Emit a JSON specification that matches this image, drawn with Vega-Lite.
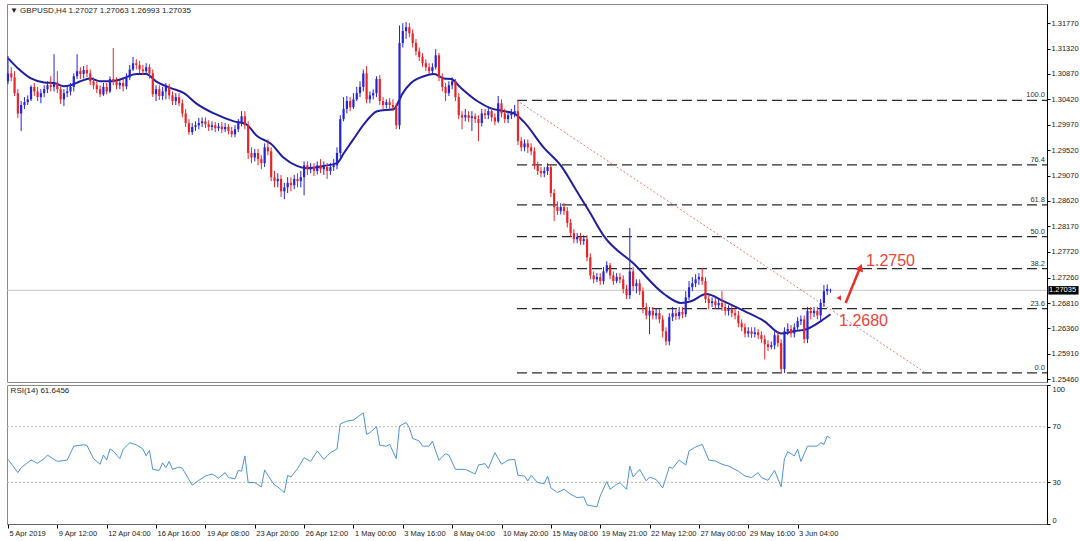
{
"$schema":"https://vega.github.io/schema/vega-lite/v6.json",
"background":"#ffffff",
"padding":{"left":3,"top":3,"right":0,"bottom":0},
"config":{"view":{"stroke":"#8a8a8a","strokeWidth":1},"axis":{"labelFont":"Liberation Sans","labelFontSize":7.5,"labelColor":"#222222","domainColor":"#000000","tickColor":"#000000","tickSize":3,"grid":false,"labelPadding":1,"title":null},"concat":{"spacing":0},"text":{"font":"Liberation Sans"}},
"datasets":{
"candles":[
{"i":0,"o":1.3074,"h":1.3119,"l":1.3069,"c":1.3088},
{"i":1,"o":1.3088,"h":1.3099,"l":1.3074,"c":1.3081},
{"i":2,"o":1.3081,"h":1.3092,"l":1.3048,"c":1.3053},
{"i":3,"o":1.3053,"h":1.3060,"l":1.3009,"c":1.3017},
{"i":4,"o":1.3017,"h":1.3039,"l":1.2986,"c":1.3032},
{"i":5,"o":1.3032,"h":1.3046,"l":1.3025,"c":1.3037},
{"i":6,"o":1.3037,"h":1.3049,"l":1.3032,"c":1.3042},
{"i":7,"o":1.3042,"h":1.3067,"l":1.3039,"c":1.3064},
{"i":8,"o":1.3064,"h":1.3071,"l":1.3048,"c":1.3056},
{"i":9,"o":1.3056,"h":1.3064,"l":1.3039,"c":1.3046},
{"i":10,"o":1.3046,"h":1.3060,"l":1.3035,"c":1.3053},
{"i":11,"o":1.3053,"h":1.3067,"l":1.3046,"c":1.3060},
{"i":12,"o":1.3060,"h":1.3074,"l":1.3053,"c":1.3067},
{"i":13,"o":1.3067,"h":1.3083,"l":1.3056,"c":1.3064},
{"i":14,"o":1.3064,"h":1.3122,"l":1.3056,"c":1.3071},
{"i":15,"o":1.3071,"h":1.3092,"l":1.3053,"c":1.3060},
{"i":16,"o":1.3060,"h":1.3065,"l":1.3034,"c":1.3042},
{"i":17,"o":1.3042,"h":1.3060,"l":1.3030,"c":1.3053},
{"i":18,"o":1.3053,"h":1.3064,"l":1.3046,"c":1.3056},
{"i":19,"o":1.3056,"h":1.3071,"l":1.3049,"c":1.3064},
{"i":20,"o":1.3064,"h":1.3088,"l":1.3056,"c":1.3083},
{"i":21,"o":1.3083,"h":1.3122,"l":1.3078,"c":1.3092},
{"i":22,"o":1.3092,"h":1.3099,"l":1.3078,"c":1.3087},
{"i":23,"o":1.3087,"h":1.3101,"l":1.3079,"c":1.3094},
{"i":24,"o":1.3094,"h":1.3103,"l":1.3081,"c":1.3088},
{"i":25,"o":1.3088,"h":1.3095,"l":1.3067,"c":1.3074},
{"i":26,"o":1.3074,"h":1.3081,"l":1.3060,"c":1.3067},
{"i":27,"o":1.3067,"h":1.3074,"l":1.3053,"c":1.3060},
{"i":28,"o":1.3060,"h":1.3067,"l":1.3046,"c":1.3051},
{"i":29,"o":1.3051,"h":1.3071,"l":1.3048,"c":1.3064},
{"i":30,"o":1.3064,"h":1.3071,"l":1.3051,"c":1.3056},
{"i":31,"o":1.3056,"h":1.3083,"l":1.3053,"c":1.3078},
{"i":32,"o":1.3078,"h":1.3133,"l":1.3067,"c":1.3074},
{"i":33,"o":1.3074,"h":1.3081,"l":1.3060,"c":1.3067},
{"i":34,"o":1.3067,"h":1.3078,"l":1.3060,"c":1.3071},
{"i":35,"o":1.3071,"h":1.3078,"l":1.3056,"c":1.3065},
{"i":36,"o":1.3065,"h":1.3088,"l":1.3060,"c":1.3081},
{"i":37,"o":1.3081,"h":1.3103,"l":1.3076,"c":1.3095},
{"i":38,"o":1.3095,"h":1.3117,"l":1.3092,"c":1.3106},
{"i":39,"o":1.3106,"h":1.3113,"l":1.3095,"c":1.3103},
{"i":40,"o":1.3103,"h":1.3110,"l":1.3088,"c":1.3095},
{"i":41,"o":1.3095,"h":1.3103,"l":1.3085,"c":1.3092},
{"i":42,"o":1.3092,"h":1.3106,"l":1.3085,"c":1.3099},
{"i":43,"o":1.3099,"h":1.3104,"l":1.3079,"c":1.3088},
{"i":44,"o":1.3088,"h":1.3095,"l":1.3046,"c":1.3051},
{"i":45,"o":1.3051,"h":1.3067,"l":1.3039,"c":1.3060},
{"i":46,"o":1.3060,"h":1.3067,"l":1.3041,"c":1.3048},
{"i":47,"o":1.3048,"h":1.3064,"l":1.3041,"c":1.3056},
{"i":48,"o":1.3056,"h":1.3071,"l":1.3042,"c":1.3064},
{"i":49,"o":1.3064,"h":1.3069,"l":1.3042,"c":1.3049},
{"i":50,"o":1.3049,"h":1.3056,"l":1.3032,"c":1.3039},
{"i":51,"o":1.3039,"h":1.3053,"l":1.3032,"c":1.3046},
{"i":52,"o":1.3046,"h":1.3053,"l":1.3030,"c":1.3035},
{"i":53,"o":1.3035,"h":1.3042,"l":1.3010,"c":1.3017},
{"i":54,"o":1.3017,"h":1.3025,"l":1.2993,"c":1.3000},
{"i":55,"o":1.3000,"h":1.3007,"l":1.2979,"c":1.2984},
{"i":56,"o":1.2984,"h":1.3000,"l":1.2979,"c":1.2993},
{"i":57,"o":1.2993,"h":1.3003,"l":1.2986,"c":1.2996},
{"i":58,"o":1.2996,"h":1.3009,"l":1.2989,"c":1.3000},
{"i":59,"o":1.3000,"h":1.3010,"l":1.2993,"c":1.3003},
{"i":60,"o":1.3003,"h":1.3010,"l":1.2991,"c":1.2998},
{"i":61,"o":1.2998,"h":1.3005,"l":1.2986,"c":1.2993},
{"i":62,"o":1.2993,"h":1.3003,"l":1.2987,"c":1.2996},
{"i":63,"o":1.2996,"h":1.3002,"l":1.2984,"c":1.2991},
{"i":64,"o":1.2991,"h":1.3000,"l":1.2986,"c":1.2994},
{"i":65,"o":1.2994,"h":1.3002,"l":1.2982,"c":1.2989},
{"i":66,"o":1.2989,"h":1.3000,"l":1.2984,"c":1.2993},
{"i":67,"o":1.2993,"h":1.2998,"l":1.2980,"c":1.2986},
{"i":68,"o":1.2986,"h":1.2993,"l":1.2975,"c":1.2980},
{"i":69,"o":1.2980,"h":1.2996,"l":1.2975,"c":1.2989},
{"i":70,"o":1.2989,"h":1.3007,"l":1.2984,"c":1.3000},
{"i":71,"o":1.3000,"h":1.3021,"l":1.2994,"c":1.3012},
{"i":72,"o":1.3012,"h":1.3021,"l":1.2989,"c":1.2996},
{"i":73,"o":1.2996,"h":1.3003,"l":1.2936,"c":1.2947},
{"i":74,"o":1.2947,"h":1.2957,"l":1.2929,"c":1.2939},
{"i":75,"o":1.2939,"h":1.2954,"l":1.2932,"c":1.2947},
{"i":76,"o":1.2947,"h":1.2954,"l":1.2925,"c":1.2936},
{"i":77,"o":1.2936,"h":1.2943,"l":1.2918,"c":1.2929},
{"i":78,"o":1.2929,"h":1.2964,"l":1.2922,"c":1.2957},
{"i":79,"o":1.2957,"h":1.2971,"l":1.2943,"c":1.2950},
{"i":80,"o":1.2950,"h":1.2957,"l":1.2897,"c":1.2904},
{"i":81,"o":1.2904,"h":1.2915,"l":1.2886,"c":1.2897},
{"i":82,"o":1.2897,"h":1.2911,"l":1.2886,"c":1.2901},
{"i":83,"o":1.2901,"h":1.2908,"l":1.2869,"c":1.2879},
{"i":84,"o":1.2879,"h":1.2894,"l":1.2865,"c":1.2886},
{"i":85,"o":1.2886,"h":1.2904,"l":1.2876,"c":1.2894},
{"i":86,"o":1.2894,"h":1.2904,"l":1.2879,"c":1.2890},
{"i":87,"o":1.2890,"h":1.2908,"l":1.2883,"c":1.2901},
{"i":88,"o":1.2901,"h":1.2911,"l":1.2886,"c":1.2897},
{"i":89,"o":1.2897,"h":1.2915,"l":1.2886,"c":1.2904},
{"i":90,"o":1.2904,"h":1.2932,"l":1.2872,"c":1.2925},
{"i":91,"o":1.2925,"h":1.2932,"l":1.2908,"c":1.2918},
{"i":92,"o":1.2918,"h":1.2929,"l":1.2911,"c":1.2922},
{"i":93,"o":1.2922,"h":1.2929,"l":1.2906,"c":1.2915},
{"i":94,"o":1.2915,"h":1.2932,"l":1.2909,"c":1.2925},
{"i":95,"o":1.2925,"h":1.2936,"l":1.2911,"c":1.2918},
{"i":96,"o":1.2918,"h":1.2932,"l":1.2908,"c":1.2922},
{"i":97,"o":1.2922,"h":1.2929,"l":1.2901,"c":1.2915},
{"i":98,"o":1.2915,"h":1.2929,"l":1.2908,"c":1.2922},
{"i":99,"o":1.2922,"h":1.2936,"l":1.2915,"c":1.2925},
{"i":100,"o":1.2925,"h":1.2957,"l":1.2918,"c":1.2947},
{"i":101,"o":1.2947,"h":1.3014,"l":1.2939,"c":1.3007},
{"i":102,"o":1.3007,"h":1.3046,"l":1.3003,"c":1.3025},
{"i":103,"o":1.3025,"h":1.3048,"l":1.3017,"c":1.3039},
{"i":104,"o":1.3039,"h":1.3046,"l":1.3021,"c":1.3028},
{"i":105,"o":1.3028,"h":1.3053,"l":1.3025,"c":1.3042},
{"i":106,"o":1.3042,"h":1.3064,"l":1.3039,"c":1.3053},
{"i":107,"o":1.3053,"h":1.3074,"l":1.3046,"c":1.3064},
{"i":108,"o":1.3064,"h":1.3095,"l":1.3056,"c":1.3088},
{"i":109,"o":1.3088,"h":1.3101,"l":1.3035,"c":1.3042},
{"i":110,"o":1.3042,"h":1.3056,"l":1.3035,"c":1.3049},
{"i":111,"o":1.3049,"h":1.3060,"l":1.3042,"c":1.3053},
{"i":112,"o":1.3053,"h":1.3083,"l":1.3046,"c":1.3078},
{"i":113,"o":1.3078,"h":1.3085,"l":1.3032,"c":1.3039},
{"i":114,"o":1.3039,"h":1.3046,"l":1.3025,"c":1.3032},
{"i":115,"o":1.3032,"h":1.3042,"l":1.3026,"c":1.3037},
{"i":116,"o":1.3037,"h":1.3044,"l":1.3025,"c":1.3032},
{"i":117,"o":1.3032,"h":1.3042,"l":1.3021,"c":1.3028},
{"i":118,"o":1.3028,"h":1.3035,"l":1.2989,"c":1.2996},
{"i":119,"o":1.2996,"h":1.3173,"l":1.2989,"c":1.3142},
{"i":120,"o":1.3142,"h":1.3177,"l":1.3134,"c":1.3163},
{"i":121,"o":1.3163,"h":1.3179,"l":1.3149,"c":1.3170},
{"i":122,"o":1.3170,"h":1.3177,"l":1.3152,"c":1.3159},
{"i":123,"o":1.3159,"h":1.3166,"l":1.3134,"c":1.3142},
{"i":124,"o":1.3142,"h":1.3149,"l":1.3120,"c":1.3127},
{"i":125,"o":1.3127,"h":1.3134,"l":1.3110,"c":1.3117},
{"i":126,"o":1.3117,"h":1.3124,"l":1.3099,"c":1.3106},
{"i":127,"o":1.3106,"h":1.3113,"l":1.3092,"c":1.3099},
{"i":128,"o":1.3099,"h":1.3106,"l":1.3087,"c":1.3092},
{"i":129,"o":1.3092,"h":1.3106,"l":1.3087,"c":1.3099},
{"i":130,"o":1.3099,"h":1.3131,"l":1.3095,"c":1.3120},
{"i":131,"o":1.3120,"h":1.3124,"l":1.3074,"c":1.3081},
{"i":132,"o":1.3081,"h":1.3088,"l":1.3056,"c":1.3064},
{"i":133,"o":1.3064,"h":1.3071,"l":1.3039,"c":1.3053},
{"i":134,"o":1.3053,"h":1.3074,"l":1.3048,"c":1.3067},
{"i":135,"o":1.3067,"h":1.3081,"l":1.3060,"c":1.3074},
{"i":136,"o":1.3074,"h":1.3078,"l":1.3039,"c":1.3046},
{"i":137,"o":1.3046,"h":1.3053,"l":1.3007,"c":1.3014},
{"i":138,"o":1.3014,"h":1.3021,"l":1.2989,"c":1.3010},
{"i":139,"o":1.3010,"h":1.3025,"l":1.3003,"c":1.3014},
{"i":140,"o":1.3014,"h":1.3021,"l":1.3002,"c":1.3009},
{"i":141,"o":1.3009,"h":1.3021,"l":1.2986,"c":1.3012},
{"i":142,"o":1.3012,"h":1.3017,"l":1.3000,"c":1.3007},
{"i":143,"o":1.3007,"h":1.3014,"l":1.2968,"c":1.3000},
{"i":144,"o":1.3000,"h":1.3025,"l":1.2994,"c":1.3017},
{"i":145,"o":1.3017,"h":1.3025,"l":1.3007,"c":1.3014},
{"i":146,"o":1.3014,"h":1.3028,"l":1.3007,"c":1.3021},
{"i":147,"o":1.3021,"h":1.3028,"l":1.3003,"c":1.3010},
{"i":148,"o":1.3010,"h":1.3017,"l":1.2996,"c":1.3003},
{"i":149,"o":1.3003,"h":1.3048,"l":1.3000,"c":1.3035},
{"i":150,"o":1.3035,"h":1.3042,"l":1.3010,"c":1.3017},
{"i":151,"o":1.3017,"h":1.3025,"l":1.3000,"c":1.3007},
{"i":152,"o":1.3007,"h":1.3021,"l":1.3000,"c":1.3014},
{"i":153,"o":1.3014,"h":1.3025,"l":1.3007,"c":1.3017},
{"i":154,"o":1.3017,"h":1.3032,"l":1.3010,"c":1.3021},
{"i":155,"o":1.3021,"h":1.3040,"l":1.2961,"c":1.2968},
{"i":156,"o":1.2968,"h":1.2975,"l":1.2950,"c":1.2957},
{"i":157,"o":1.2957,"h":1.2971,"l":1.2950,"c":1.2964},
{"i":158,"o":1.2964,"h":1.2971,"l":1.2947,"c":1.2957},
{"i":159,"o":1.2957,"h":1.2964,"l":1.2943,"c":1.2950},
{"i":160,"o":1.2950,"h":1.2957,"l":1.2918,"c":1.2925},
{"i":161,"o":1.2925,"h":1.2932,"l":1.2908,"c":1.2915},
{"i":162,"o":1.2915,"h":1.2922,"l":1.2904,"c":1.2911},
{"i":163,"o":1.2911,"h":1.2922,"l":1.2904,"c":1.2915},
{"i":164,"o":1.2915,"h":1.2929,"l":1.2908,"c":1.2922},
{"i":165,"o":1.2922,"h":1.2925,"l":1.2869,"c":1.2876},
{"i":166,"o":1.2876,"h":1.2883,"l":1.2826,"c":1.2851},
{"i":167,"o":1.2851,"h":1.2861,"l":1.2837,"c":1.2844},
{"i":168,"o":1.2844,"h":1.2858,"l":1.2838,"c":1.2851},
{"i":169,"o":1.2851,"h":1.2858,"l":1.2837,"c":1.2844},
{"i":170,"o":1.2844,"h":1.2851,"l":1.2815,"c":1.2823},
{"i":171,"o":1.2823,"h":1.2830,"l":1.2798,"c":1.2805},
{"i":172,"o":1.2805,"h":1.2812,"l":1.2787,"c":1.2794},
{"i":173,"o":1.2794,"h":1.2805,"l":1.2787,"c":1.2798},
{"i":174,"o":1.2798,"h":1.2805,"l":1.2784,"c":1.2791},
{"i":175,"o":1.2791,"h":1.2801,"l":1.2784,"c":1.2794},
{"i":176,"o":1.2794,"h":1.2801,"l":1.2755,"c":1.2762},
{"i":177,"o":1.2762,"h":1.2769,"l":1.2723,"c":1.2730},
{"i":178,"o":1.2730,"h":1.2737,"l":1.2716,"c":1.2723},
{"i":179,"o":1.2723,"h":1.2734,"l":1.2718,"c":1.2727},
{"i":180,"o":1.2727,"h":1.2734,"l":1.2713,"c":1.2720},
{"i":181,"o":1.2720,"h":1.2745,"l":1.2714,"c":1.2737},
{"i":182,"o":1.2737,"h":1.2755,"l":1.2734,"c":1.2748},
{"i":183,"o":1.2748,"h":1.2752,"l":1.2723,"c":1.2730},
{"i":184,"o":1.2730,"h":1.2737,"l":1.2713,"c":1.2720},
{"i":185,"o":1.2720,"h":1.2734,"l":1.2716,"c":1.2727},
{"i":186,"o":1.2727,"h":1.2734,"l":1.2716,"c":1.2723},
{"i":187,"o":1.2723,"h":1.2730,"l":1.2698,"c":1.2706},
{"i":188,"o":1.2706,"h":1.2713,"l":1.2688,"c":1.2695},
{"i":189,"o":1.2695,"h":1.2814,"l":1.2688,"c":1.2737},
{"i":190,"o":1.2737,"h":1.2745,"l":1.2702,"c":1.2711},
{"i":191,"o":1.2711,"h":1.2723,"l":1.2698,"c":1.2716},
{"i":192,"o":1.2716,"h":1.2723,"l":1.2695,"c":1.2702},
{"i":193,"o":1.2702,"h":1.2709,"l":1.2663,"c":1.2674},
{"i":194,"o":1.2674,"h":1.2681,"l":1.2652,"c":1.2659},
{"i":195,"o":1.2659,"h":1.2674,"l":1.2626,"c":1.2667},
{"i":196,"o":1.2667,"h":1.2674,"l":1.2652,"c":1.2659},
{"i":197,"o":1.2659,"h":1.2672,"l":1.2652,"c":1.2663},
{"i":198,"o":1.2663,"h":1.2670,"l":1.2645,"c":1.2652},
{"i":199,"o":1.2652,"h":1.2659,"l":1.2620,"c":1.2631},
{"i":200,"o":1.2631,"h":1.2638,"l":1.2606,"c":1.2613},
{"i":201,"o":1.2613,"h":1.2663,"l":1.2606,"c":1.2656},
{"i":202,"o":1.2656,"h":1.2674,"l":1.2649,"c":1.2663},
{"i":203,"o":1.2663,"h":1.2670,"l":1.2651,"c":1.2658},
{"i":204,"o":1.2658,"h":1.2674,"l":1.2652,"c":1.2665},
{"i":205,"o":1.2665,"h":1.2674,"l":1.2654,"c":1.2661},
{"i":206,"o":1.2661,"h":1.2702,"l":1.2656,"c":1.2691},
{"i":207,"o":1.2691,"h":1.2720,"l":1.2686,"c":1.2709},
{"i":208,"o":1.2709,"h":1.2727,"l":1.2702,"c":1.2716},
{"i":209,"o":1.2716,"h":1.2732,"l":1.2709,"c":1.2723},
{"i":210,"o":1.2723,"h":1.2734,"l":1.2713,"c":1.2727},
{"i":211,"o":1.2727,"h":1.2743,"l":1.2713,"c":1.2720},
{"i":212,"o":1.2720,"h":1.2727,"l":1.2681,"c":1.2688},
{"i":213,"o":1.2688,"h":1.2695,"l":1.2670,"c":1.2681},
{"i":214,"o":1.2681,"h":1.2691,"l":1.2674,"c":1.2684},
{"i":215,"o":1.2684,"h":1.2691,"l":1.2670,"c":1.2677},
{"i":216,"o":1.2677,"h":1.2688,"l":1.2670,"c":1.2681},
{"i":217,"o":1.2681,"h":1.2702,"l":1.2667,"c":1.2674},
{"i":218,"o":1.2674,"h":1.2681,"l":1.2659,"c":1.2667},
{"i":219,"o":1.2667,"h":1.2677,"l":1.2659,"c":1.2670},
{"i":220,"o":1.2670,"h":1.2677,"l":1.2656,"c":1.2663},
{"i":221,"o":1.2663,"h":1.2670,"l":1.2652,"c":1.2659},
{"i":222,"o":1.2659,"h":1.2667,"l":1.2638,"c":1.2645},
{"i":223,"o":1.2645,"h":1.2652,"l":1.2631,"c":1.2638},
{"i":224,"o":1.2638,"h":1.2645,"l":1.2620,"c":1.2627},
{"i":225,"o":1.2627,"h":1.2638,"l":1.2620,"c":1.2631},
{"i":226,"o":1.2631,"h":1.2638,"l":1.2619,"c":1.2626},
{"i":227,"o":1.2626,"h":1.2638,"l":1.2620,"c":1.2629},
{"i":228,"o":1.2629,"h":1.2635,"l":1.2617,"c":1.2624},
{"i":229,"o":1.2624,"h":1.2631,"l":1.2610,"c":1.2617},
{"i":230,"o":1.2617,"h":1.2624,"l":1.2581,"c":1.2608},
{"i":231,"o":1.2608,"h":1.2615,"l":1.2596,"c":1.2603},
{"i":232,"o":1.2603,"h":1.2613,"l":1.2599,"c":1.2606},
{"i":233,"o":1.2606,"h":1.2631,"l":1.2599,"c":1.2624},
{"i":234,"o":1.2624,"h":1.2631,"l":1.2603,"c":1.2610},
{"i":235,"o":1.2610,"h":1.2617,"l":1.2557,"c":1.2564},
{"i":236,"o":1.2564,"h":1.2638,"l":1.2557,"c":1.2631},
{"i":237,"o":1.2631,"h":1.2645,"l":1.2624,"c":1.2635},
{"i":238,"o":1.2635,"h":1.2642,"l":1.2620,"c":1.2627},
{"i":239,"o":1.2627,"h":1.2645,"l":1.2620,"c":1.2638},
{"i":240,"o":1.2638,"h":1.2656,"l":1.2631,"c":1.2649},
{"i":241,"o":1.2649,"h":1.2659,"l":1.2642,"c":1.2652},
{"i":242,"o":1.2652,"h":1.2659,"l":1.2610,"c":1.2617},
{"i":243,"o":1.2617,"h":1.2674,"l":1.2610,"c":1.2667},
{"i":244,"o":1.2667,"h":1.2674,"l":1.2652,"c":1.2663},
{"i":245,"o":1.2663,"h":1.2674,"l":1.2656,"c":1.2667},
{"i":246,"o":1.2667,"h":1.2674,"l":1.2652,"c":1.2659},
{"i":247,"o":1.2659,"h":1.2688,"l":1.2649,"c":1.2681},
{"i":248,"o":1.2681,"h":1.2713,"l":1.2674,"c":1.2702},
{"i":249,"o":1.2702,"h":1.2714,"l":1.2695,"c":1.2706},
{"i":250,"o":1.27027,"h":1.27063,"l":1.26993,"c":1.27035}
],
"ma":[
{"i":0,"p":1.3115},{"i":3,"p":1.3097},{"i":7,"p":1.3079},{"i":11,"p":1.3072},{"i":14,"p":1.3071},{"i":17,"p":1.3065},{"i":19,"p":1.3067},{"i":22,"p":1.3074},{"i":25,"p":1.3079},{"i":28,"p":1.3074},{"i":31,"p":1.3074},{"i":35,"p":1.3079},{"i":39,"p":1.3087},{"i":42,"p":1.3087},{"i":45,"p":1.3074},{"i":49.5,"p":1.3062},{"i":53.5,"p":1.3053},{"i":57.4,"p":1.3034},{"i":62.6,"p":1.3017},{"i":68.7,"p":1.3003},{"i":72.3,"p":1.2998},{"i":75.7,"p":1.2977},{"i":80,"p":1.2963},{"i":83.9,"p":1.2938},{"i":87.8,"p":1.2924},{"i":90.9,"p":1.2920},{"i":96,"p":1.2924},{"i":100,"p":1.2929},{"i":102.1,"p":1.2947},{"i":105.2,"p":1.2973},{"i":108.2,"p":1.2998},{"i":112.2,"p":1.3021},{"i":117.3,"p":1.3025},{"i":118.8,"p":1.3039},{"i":119.8,"p":1.3051},{"i":122.5,"p":1.3071},{"i":126.4,"p":1.3083},{"i":129.5,"p":1.3087},{"i":132.5,"p":1.3079},{"i":134.7,"p":1.3078},{"i":137.7,"p":1.3062},{"i":142.6,"p":1.3039},{"i":146.8,"p":1.3026},{"i":150.8,"p":1.3021},{"i":153.8,"p":1.3017},{"i":156.8,"p":1.3002},{"i":162.9,"p":1.2956},{"i":168.1,"p":1.2924},{"i":172.9,"p":1.2879},{"i":176.6,"p":1.2844},{"i":181.2,"p":1.2799},{"i":190.3,"p":1.2750},{"i":199.4,"p":1.2697},{"i":204.6,"p":1.2681},{"i":207.6,"p":1.2684},{"i":212.2,"p":1.2697},{"i":217.6,"p":1.2684},{"i":223.7,"p":1.2667},{"i":229.8,"p":1.2649},{"i":235,"p":1.2627},{"i":238.9,"p":1.2631},{"i":242.9,"p":1.2635},{"i":247.1,"p":1.2649},{"i":250,"p":1.2661}
],
"rsi":[
{"i":0,"r":46.5},{"i":3,"r":37},{"i":4,"r":40.5},{"i":7,"r":46},{"i":9,"r":43.7},{"i":11,"r":47},{"i":12,"r":49.6},{"i":15,"r":45},{"i":18,"r":46},{"i":20,"r":56},{"i":23,"r":57},{"i":24,"r":56.6},{"i":26,"r":47},{"i":28,"r":43},{"i":29,"r":49.6},{"i":30,"r":46},{"i":31,"r":54},{"i":32,"r":52.5},{"i":34,"r":47},{"i":35,"r":53.7},{"i":37,"r":58.5},{"i":39,"r":57},{"i":41,"r":54},{"i":42,"r":49},{"i":43,"r":53},{"i":44,"r":39.3},{"i":46,"r":38.6},{"i":47,"r":44},{"i":48,"r":40.5},{"i":49,"r":45},{"i":50,"r":39.3},{"i":52,"r":41},{"i":53,"r":40},{"i":56,"r":28},{"i":58,"r":31.4},{"i":60,"r":34.5},{"i":62,"r":36},{"i":64,"r":33},{"i":66,"r":37},{"i":67,"r":33.4},{"i":69,"r":32.6},{"i":70,"r":38.6},{"i":71,"r":38},{"i":72,"r":49},{"i":73,"r":29.8},{"i":75,"r":29.8},{"i":77,"r":26.7},{"i":78,"r":38.9},{"i":79,"r":35},{"i":81,"r":28},{"i":82,"r":26.7},{"i":84,"r":22.6},{"i":85,"r":35},{"i":86,"r":33.8},{"i":88,"r":39.8},{"i":90,"r":47.7},{"i":92,"r":45},{"i":94,"r":52.5},{"i":96,"r":46.5},{"i":98,"r":51.3},{"i":100,"r":54},{"i":101,"r":72},{"i":103,"r":74},{"i":105,"r":74.8},{"i":108,"r":80},{"i":109,"r":64.5},{"i":110,"r":65.7},{"i":112,"r":70},{"i":113,"r":56.6},{"i":115,"r":56},{"i":116,"r":57.3},{"i":118,"r":47},{"i":119,"r":70.5},{"i":121,"r":73},{"i":122,"r":69.3},{"i":123,"r":61.6},{"i":125,"r":59.7},{"i":126,"r":56},{"i":128,"r":56},{"i":129,"r":59.7},{"i":130,"r":52.5},{"i":131,"r":45.8},{"i":133,"r":50.6},{"i":134,"r":49.6},{"i":136,"r":39.3},{"i":139,"r":39.3},{"i":142,"r":36},{"i":143,"r":42.5},{"i":145,"r":43.4},{"i":146,"r":40},{"i":148,"r":51.3},{"i":150,"r":43},{"i":152,"r":46},{"i":154,"r":46.5},{"i":155,"r":35},{"i":157,"r":34.5},{"i":158,"r":31},{"i":159,"r":35},{"i":161,"r":29.8},{"i":163,"r":29},{"i":164,"r":34.5},{"i":165,"r":26},{"i":167,"r":22.6},{"i":169,"r":25},{"i":171,"r":21.4},{"i":173,"r":19},{"i":175,"r":19.5},{"i":176,"r":13.7},{"i":179,"r":12.3},{"i":180,"r":20.2},{"i":182,"r":30.5},{"i":183,"r":25},{"i":185,"r":28.6},{"i":186,"r":29.8},{"i":188,"r":25},{"i":189,"r":41.7},{"i":190,"r":33.8},{"i":192,"r":39.3},{"i":194,"r":31},{"i":195,"r":33.8},{"i":197,"r":32},{"i":199,"r":26},{"i":201,"r":41},{"i":202,"r":40},{"i":204,"r":46},{"i":206,"r":42.5},{"i":207,"r":52.5},{"i":209,"r":55.4},{"i":211,"r":57.3},{"i":213,"r":46},{"i":215,"r":45.3},{"i":217,"r":43},{"i":219,"r":41.7},{"i":222,"r":38},{"i":224,"r":34.5},{"i":226,"r":33.4},{"i":228,"r":37},{"i":229,"r":33.4},{"i":231,"r":31.4},{"i":233,"r":38.6},{"i":235,"r":26.7},{"i":236,"r":47},{"i":237,"r":52},{"i":239,"r":49},{"i":240,"r":53.7},{"i":241,"r":45},{"i":243,"r":56},{"i":246,"r":56},{"i":247,"r":58.5},{"i":248,"r":57.3},{"i":249,"r":63.3},{"i":250,"r":61.6456}
],
"fib":[
{"i":154.7,"i2":315.8,"p":1.3040,"t":"100.0"},
{"i":154.7,"i2":315.8,"p":1.2926,"t":"76.4"},
{"i":154.7,"i2":315.8,"p":1.2855,"t":"61.8"},
{"i":154.7,"i2":315.8,"p":1.27985,"t":"50.0"},
{"i":154.7,"i2":315.8,"p":1.2742,"t":"38.2"},
{"i":154.7,"i2":315.8,"p":1.2671,"t":"23.6"},
{"i":154.7,"i2":315.8,"p":1.2557,"t":"0.0"}
]
},
"vconcat":[
{
"width":1040,"height":378,
"encoding":{
"x":{"field":"i","type":"quantitative","scale":{"domain":[-0.3,315.8],"nice":false,"zero":false},"axis":null},
"y":{"field":"p","type":"quantitative","title":null,"scale":{"domain":[1.2541,1.3211],"nice":false,"zero":false},"axis":{"orient":"right","title":null,"values":[1.3177,1.3132,1.3087,1.3042,1.2997,1.2952,1.2907,1.2862,1.2817,1.2772,1.2726,1.2681,1.2636,1.2591,1.2546],"format":".5f","tickSize":3,"labelPadding":1}}
},
"layer":[
{"data":{"values":[{"i":-0.3,"i2":315.8,"p":1.27035}]},"mark":{"type":"rule","color":"#c4c4c4","strokeWidth":1},"encoding":{"x2":{"field":"i2"}}},
{"data":{"name":"fib"},"mark":{"type":"rule","color":"#2a2a2a","strokeWidth":1.3,"strokeDash":[10,5]},"encoding":{"x2":{"field":"i2"}}},
{"data":{"name":"fib"},"mark":{"type":"text","align":"right","baseline":"bottom","dx":-2,"dy":-1,"fontSize":7.5,"color":"#333333"},"encoding":{"x":{"field":"i2","type":"quantitative"},"text":{"field":"t"}}},
{"data":{"values":[{"i":154.7,"p":1.3040,"i2":279,"p2":1.2557}]},"mark":{"type":"rule","color":"#e07b7b","strokeWidth":1,"strokeDash":[2,2]},"encoding":{"x2":{"field":"i2"},"y2":{"field":"p2"}}},
{"data":{"name":"ma"},"mark":{"type":"line","color":"#1f1f9e","strokeWidth":2,"interpolate":"monotone"},"encoding":{}},
{"data":{"name":"candles"},"mark":{"type":"rule","strokeWidth":1},"encoding":{"y":{"field":"l","type":"quantitative","title":null},"y2":{"field":"h"},"color":{"condition":{"test":"datum.c >= datum.o","value":"#2424d4"},"value":"#e4262b"}}},
{"data":{"name":"candles"},"mark":{"type":"rule","strokeWidth":2.2,"strokeCap":"butt"},"encoding":{"y":{"field":"o","type":"quantitative","title":null},"y2":{"field":"c"},"color":{"condition":{"test":"datum.c >= datum.o","value":"#2424d4"},"value":"#e4262b"}}},
{"data":{"values":[{"i":260.8,"p":1.2746,"t":"1.2750"},{"i":252.6,"p":1.2640,"t":"1.2680"}]},"mark":{"type":"text","align":"left","baseline":"alphabetic","fontSize":16,"color":"#e5453a"},"encoding":{"text":{"field":"t"}}},
{"data":{"values":[{"i":254.6,"p":1.2681,"i2":258.8,"p2":1.2741}]},"mark":{"type":"rule","color":"#e5302a","strokeWidth":2.5},"encoding":{"x2":{"field":"i2"},"y2":{"field":"p2"}}},
{"data":{"values":[{"i":259.1,"p":1.2744}]},"mark":{"type":"point","shape":"triangle-up","filled":true,"size":70,"angle":22,"color":"#e5302a","opacity":1},"encoding":{}},
{"data":{"values":[{"i":252.5,"p":1.2690}]},"mark":{"type":"point","shape":"triangle-left","filled":true,"size":28,"color":"#e5302a","opacity":1},"encoding":{}},
{"data":{"values":[{"i":316.2,"i2":325.4,"p":1.2696,"p2":1.2711}]},"mark":{"type":"rect","color":"#000000","clip":false},"encoding":{"x2":{"field":"i2"},"y2":{"field":"p2"}}},
{"data":{"values":[{"i":316.4,"p":1.27035,"t":"1.27035"}]},"mark":{"type":"text","align":"left","baseline":"middle","fontSize":7.5,"color":"#ffffff"},"encoding":{"text":{"field":"t"}}},
{"data":{"values":[{"i":0.6,"p":1.3198,"t":"▼ GBPUSD,H4  1.27027 1.27063 1.26993 1.27035"}]},"mark":{"type":"text","align":"left","baseline":"middle","fontSize":8,"color":"#222222"},"encoding":{"text":{"field":"t"}}}
]
},
{
"width":1040,"height":139,
"encoding":{
"x":{"field":"i","type":"quantitative","scale":{"domain":[-0.3,315.8],"nice":false,"zero":false},"axis":{"orient":"bottom","title":null,"values":[0,15,30,45,60,75,90,105,120,135,150,165,180,195,210,225,240],"labelExpr":"['5 Apr 2019','9 Apr 12:00','12 Apr 04:00','16 Apr 16:00','19 Apr 08:00','23 Apr 20:00','26 Apr 12:00','1 May 00:00','3 May 16:00','8 May 04:00','10 May 20:00','15 May 08:00','19 May 21:00','22 May 12:00','27 May 00:00','29 May 16:00','3 Jun 04:00'][round(datum.value/15)]","labelAlign":"left","labelOffset":1,"tickSize":4,"labelPadding":1,"labelFlush":false,"labelOverlap":false,"labelBound":false,"domainColor":"#666666"}},
"y":{"field":"r","type":"quantitative","title":null,"scale":{"domain":[0,100],"nice":false,"zero":false},"axis":{"orient":"right","title":null,"values":[0,30,70,100],"labelFlush":true,"tickSize":3,"labelPadding":2}}
},
"layer":[
{"data":{"values":[{"i":-0.3,"i2":315.8,"r":30},{"i":-0.3,"i2":315.8,"r":70}]},"mark":{"type":"rule","color":"#b8b8b8","strokeWidth":1,"strokeDash":[2,2]},"encoding":{"x2":{"field":"i2"}}},
{"data":{"name":"rsi"},"mark":{"type":"line","color":"#4f93d6","strokeWidth":1},"encoding":{}},
{"data":{"values":[{"i":0.8,"r":95.5,"t":"RSI(14) 61.6456"}]},"mark":{"type":"text","align":"left","baseline":"middle","fontSize":8,"color":"#222222"},"encoding":{"text":{"field":"t"}}}
]
}
]
}
